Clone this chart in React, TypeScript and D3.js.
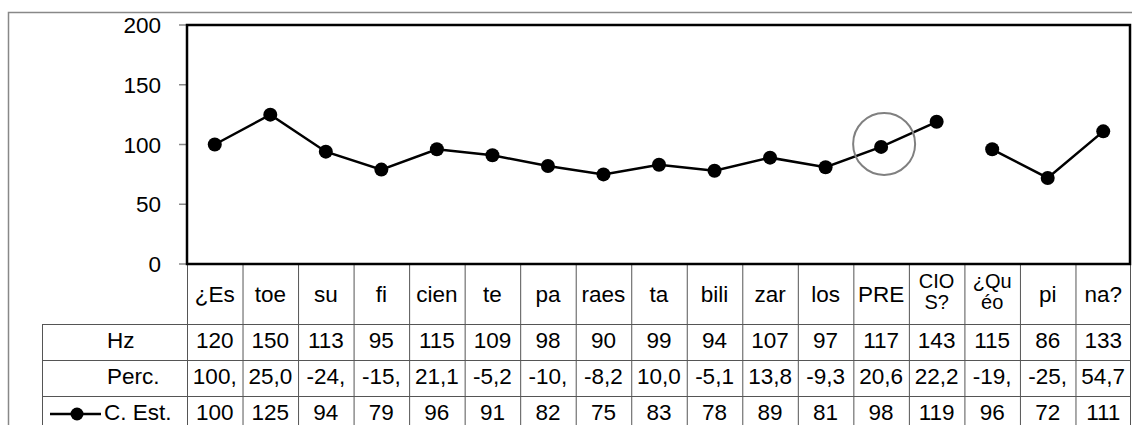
import * as d3 from "d3";

// syllables (column headers), some wrap over two lines
const syllables: string[][] = [
  ["¿Es"], ["toe"], ["su"], ["fi"], ["cien"], ["te"], ["pa"], ["raes"], ["ta"],
  ["bili"], ["zar"], ["los"], ["PRE"], ["CIO", "S?"], ["¿Qu", "éo"], ["pi"], ["na?"],
];
const hz = [120, 150, 113, 95, 115, 109, 98, 90, 99, 94, 107, 97, 117, 143, 115, 86, 133];
const perc = ["100,", "25,0", "-24,", "-15,", "21,1", "-5,2", "-10,", "-8,2", "10,0", "-5,1", "13,8", "-9,3", "20,6", "22,2", "-19,", "-25,", "54,7"];
const cEst = [100, 125, 94, 79, 96, 91, 82, 75, 83, 78, 89, 81, 98, 119, 96, 72, 111];
// the line is broken between phrases (index ranges)
const phrases = [[0, 13], [14, 16]];
const yTicks = [0, 50, 100, 150, 200];
const highlighted = 12; // PRE is circled

const W = 1132, H = 425;
const left = 187, right = 1131, top = 25, bottom = 264;
const tableLeft = 42;
const headerBottom = 324;
const rowH = 36;
const font = "'Liberation Sans', Arial, sans-serif";
const fs = 22.5;

export default function App() {
  const idx = d3.range(syllables.length);
  const x = d3.scaleBand<number>().domain(idx).range([left, right]).padding(0);
  const y = d3.scaleLinear().domain([0, 200]).range([bottom, top]);
  const cx = (i: number) => x(i)! + x.bandwidth() / 2;

  const line = d3.line<number>().x(i => cx(i)).y(i => y(cEst[i]));

  const rows = [
    { label: "Hz", values: hz.map(String), key: false },
    { label: "Perc.", values: perc, key: false },
    { label: "C. Est.", values: cEst.map(String), key: true },
  ];

  const gridColor = "#555";
  const dy = 8; // baseline offset for axis labels and headers
  const rowDy = 6; // baseline offset inside table rows

  return (
    <svg width={W} height={H} style={{ position: "absolute", left: 0, top: 0, display: "block" }} fontFamily={font} fontSize={fs}>
      <rect x={0} y={0} width={W} height={H} fill="#fff" />
      {/* outer chart border */}
      <rect x={8.5} y={12.5} width={W} height={H} fill="none" stroke="#888" strokeWidth={1.5} />

      {/* y axis ticks and labels */}
      {yTicks.map(t => (
        <g key={t}>
          <line x1={179} x2={left} y1={y(t)} y2={y(t)} stroke="#888" strokeWidth={1.5} />
          <text x={161} y={y(t) + dy} textAnchor="end">{t}</text>
        </g>
      ))}

      {/* data table */}
      <g stroke={gridColor} strokeWidth={1}>
        {idx.map(i => (
          <line key={i} x1={x(i)! + 0.5} x2={x(i)! + 0.5} y1={bottom} y2={H} />
        ))}
        <line x1={right - 0.5} x2={right - 0.5} y1={bottom} y2={H} />
        <line x1={tableLeft + 0.5} x2={tableLeft + 0.5} y1={headerBottom} y2={H} />
        {rows.map((_, r) => (
          <line key={r} x1={tableLeft} x2={right} y1={headerBottom + r * rowH + 0.5} y2={headerBottom + r * rowH + 0.5} />
        ))}
      </g>

      {/* headers */}
      {syllables.map((lines, i) =>
        lines.length === 1 ? (
          <text key={i} x={cx(i)} y={294 + dy} textAnchor="middle">{lines[0]}</text>
        ) : (
          lines.map((l, k) => (
            <text key={i + "-" + k} x={cx(i)} y={288 + k * 21} textAnchor="middle" fontSize={20}>{l}</text>
          ))
        )
      )}

      {/* rows */}
      {rows.map((row, r) => {
        const mid = headerBottom + r * rowH + rowH / 2;
        return (
          <g key={row.label}>
            {row.key && (
              <g>
                <line x1={50} x2={101} y1={mid} y2={mid} stroke="#000" strokeWidth={2.5} />
                <circle cx={77} cy={mid} r={6.5} fill="#000" />
              </g>
            )}
            <text x={row.key ? 104 : 107} y={mid + rowDy}>{row.label}</text>
            {row.values.map((v, i) => (
              <text key={i} x={cx(i)} y={mid + rowDy} textAnchor="middle">{v}</text>
            ))}
          </g>
        );
      })}

      {/* series */}
      {phrases.map(([a, b], k) => (
        <path key={k} d={line(d3.range(a, b + 1)) ?? ""} fill="none" stroke="#000" strokeWidth={2.5} />
      ))}
      {cEst.map((v, i) => (
        <circle key={i} cx={cx(i)} cy={y(v)} r={7} fill="#000" />
      ))}

      {/* highlight circle */}
      <circle cx={cx(highlighted) + 3} cy={y(cEst[highlighted]) - 3} r={31} fill="none" stroke="#808080" strokeWidth={2} />

      {/* plot area frame */}
      <rect x={left} y={top} width={right - left - 1} height={bottom - top} fill="none" stroke="#000" strokeWidth={2.5} />
    </svg>
  );
}
